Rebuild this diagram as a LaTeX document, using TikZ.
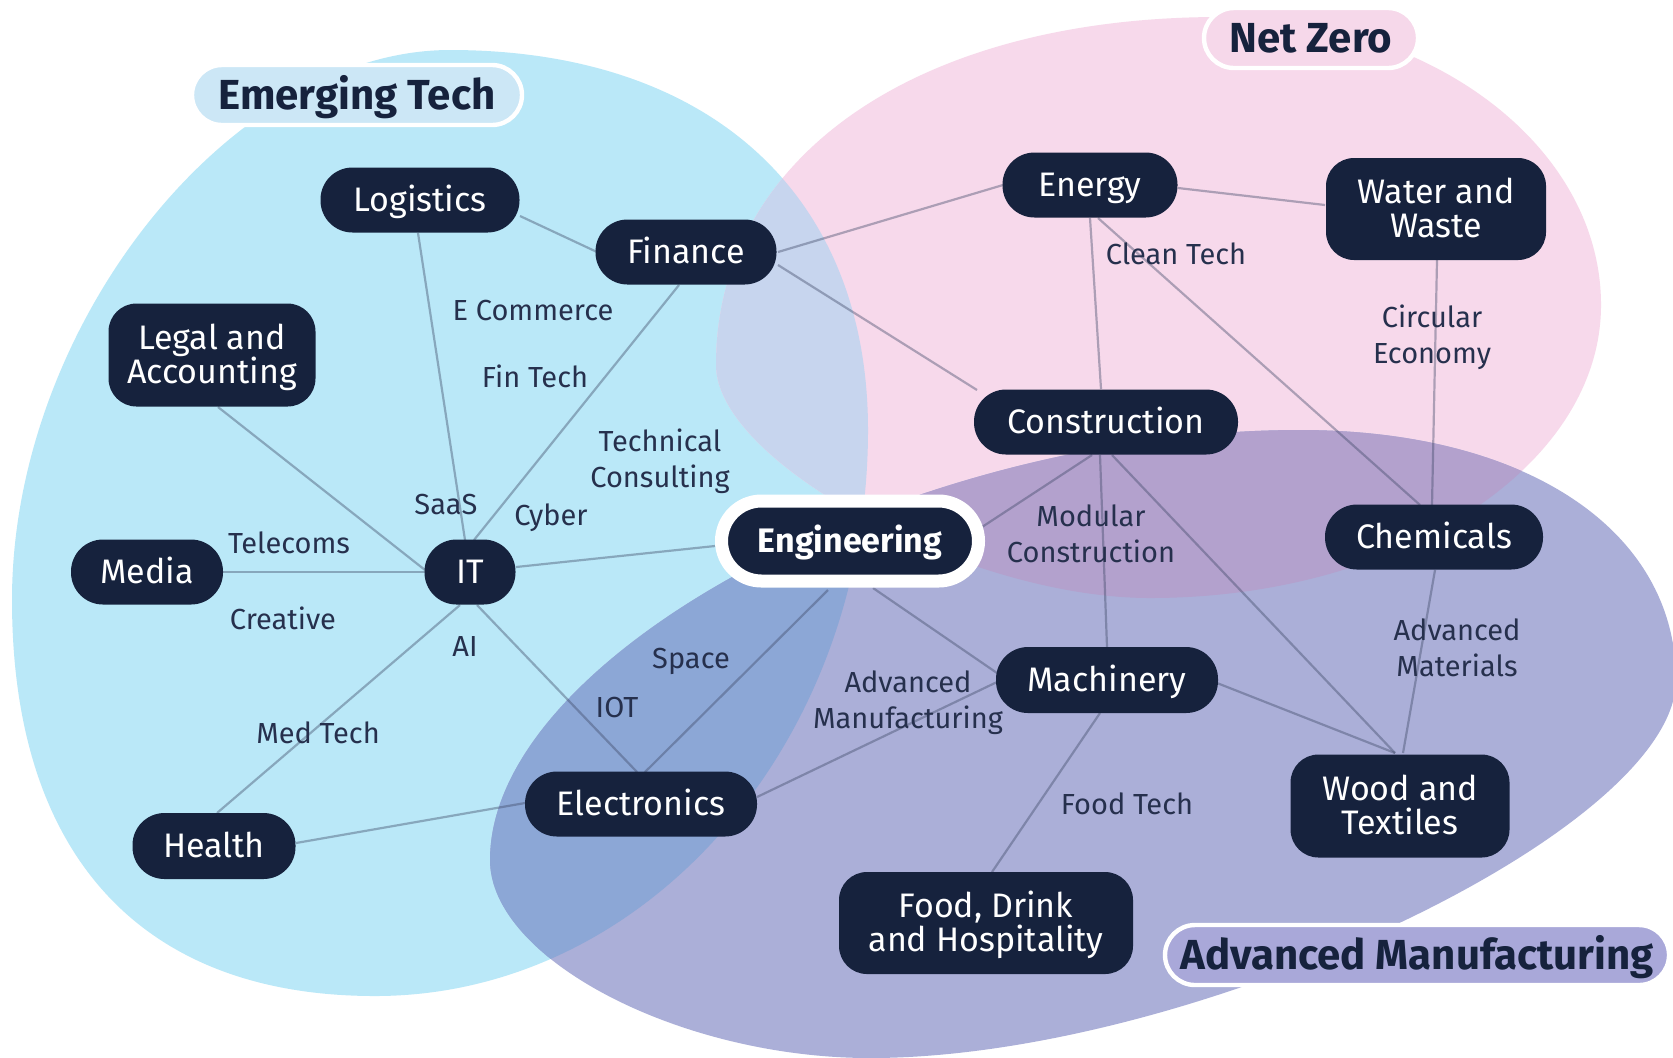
\documentclass[tikz,border=0pt]{standalone}
\usepackage{fontspec}
\setmainfont{Fira Sans}
\usetikzlibrary{calc}
\definecolor{bluec}{HTML}{BAE8F8}
\definecolor{pinkc}{HTML}{F7D9EB}
\definecolor{purpc}{HTML}{ABAFD8}
\definecolor{bpc}{HTML}{C7D5EE}
\definecolor{bqc}{HTML}{8CA7D6}
\definecolor{pqc}{HTML}{B3A1CD}
\definecolor{nodec}{HTML}{16223D}
\definecolor{labc}{HTML}{26304D}
\definecolor{edgec}{HTML}{3C4664}
\definecolor{ethead}{HTML}{CCE7F6}
\definecolor{nzhead}{HTML}{F6D8EA}
\definecolor{amhead}{HTML}{A9A8D9}
\newcommand\nodefont{\fontsize{17}{17}\selectfont}
\newcommand\labfont{\fontsize{14.5}{18}\selectfont}
\newcommand\headfont{\fontsize{21}{21}\selectfont\bfseries}
\newcommand\twol[2]{\smash{#1}\rule{0pt}{11.7pt}\\\smash{#2}}
\newcommand\twolb[2]{\smash{#1}\rule{0pt}{10pt}\\\smash{#2}}
\pgfdeclarelayer{bg}\pgfdeclarelayer{edges}\pgfsetlayers{bg,edges,main}
\tikzset{
  pill/.style={fill=nodec, text=white, rounded corners=16pt, inner sep=0pt,
    font=\nodefont, text height=11.7pt, text depth=0pt, minimum height=32.5pt},
  pilltwo/.style={fill=nodec, text=white, rounded corners=14pt, inner sep=0pt,
    font=\nodefont, align=center},
  engst/.style={fill=nodec, text=white, draw=white, line width=6.5pt, rounded corners=20pt,
    inner sep=0pt, font=\nodefont\bfseries, text height=11.7pt, text depth=0pt,
    minimum width=128.5pt, minimum height=40pt},
  elab/.style={text=labc, font=\labfont, inner sep=0pt, text height=10pt, text depth=0pt},
  elabtwo/.style={text=labc, font=\labfont, inner sep=0pt, align=center},
  head/.style={draw=white, line width=2.2pt, rounded corners=15pt, inner sep=0pt,
    font=\headfont, text=nodec, text height=14.5pt, text depth=0pt, minimum height=30pt},
  edge/.style={draw=edgec, draw opacity=0.4, line width=1.1pt}
}
\begin{document}
\begin{tikzpicture}[x=0.5pt,y=-0.5pt]
\useasboundingbox (0,0) rectangle (1673,1057);
% nodes
\node[pill, minimum width=99.5pt] (log) at (420,200) {Logistics};
\node[pill, minimum width=90.5pt] (fin) at (686,252) {Finance};
\node[pilltwo, minimum width=103.5pt, minimum height=51.5pt] (leg) at (212,355) {\twol{Legal and}{Accounting}};
\node[pill, minimum width=76pt] (med) at (147,572) {Media};
\node[pill, minimum width=45.5pt] (it) at (470,572) {IT};
\node[pill, minimum width=81.5pt, minimum height=33pt] (hea) at (214,846) {Health};
\node[pill, minimum width=116pt] (ele) at (641,804) {Electronics};
\node[engst] (eng) at (850,541) {Engineering};
\node[pill, minimum width=132pt] (con) at (1106,422) {Construction};
\node[pill, minimum width=111pt, minimum height=33pt] (mac) at (1107,680) {Machinery};
\node[pill, minimum width=87.5pt] (ene) at (1090,185) {Energy};
\node[pilltwo, minimum width=110pt, minimum height=51pt] (wat) at (1436,209) {\twol{Water and}{Waste}};
\node[pill, minimum width=109pt] (che) at (1434,537) {Chemicals};
\node[pilltwo, minimum width=109.5pt, minimum height=51.5pt] (woo) at (1400,806) {\twol{Wood and}{Textiles}};
\node[pilltwo, minimum width=147pt, minimum height=51pt] (foo) at (986,923) {\twol{Food, Drink}{and Hospitality}};
% edge labels
\node[elab] (lEC) at (533,310) {E Commerce};
\node[elab] (lFT) at (535,377) {Fin Tech};
\node[elabtwo] (lTC) at (660,459) {\twolb{Technical}{Consulting}};
\node[elab] (lSA) at (446,504) {SaaS};
\node[elab] (lCY) at (551,515) {Cyber};
\node[elab] (lTE) at (289,543) {Telecoms};
\node[elab] (lCR) at (283,619) {Creative};
\node[elab] (lAI) at (465,646) {AI};
\node[elab] (lMT) at (318,733) {Med Tech};
\node[elab] (lSP) at (691,658) {Space};
\node[elab] (lIO) at (617,707) {IOT};
\node[elabtwo] (lAM) at (908,700) {\twolb{Advanced}{Manufacturing}};
\node[elabtwo] (lMC) at (1091,534) {\twolb{Modular}{Construction}};
\node[elab] (lFO) at (1127,804) {Food Tech};
\node[elab] (lCT) at (1176,254) {Clean Tech};
\node[elabtwo] (lCE) at (1432,335) {\twolb{Circular}{Economy}};
\node[elabtwo] (lAMa) at (1457,648) {\twolb{Advanced}{Materials}};
% headings
\node[head, fill=ethead, minimum width=165pt] (hET) at (357,95) {Emerging Tech};
\node[head, fill=nzhead, minimum width=107pt] (hNZ) at (1311,38) {Net Zero};
\node[head, fill=amhead, minimum width=252pt] (hAM) at (1417,955) {Advanced Manufacturing};
% edges
\begin{pgfonlayer}{edges}
\draw[edge] ($(log.center)+(100,16)$) -- ($(fin.center)+(-89,0)$);
\draw[edge] ($(log.center)+(-2,33)$) -- ($(it.center)+(-5,-32)$);
\draw[edge] ($(fin.center)+(-7,33)$) -- ($(it.center)+(4,-32)$);
\draw[edge] ($(fin.center)+(92,0)$) -- ($(ene.center)+(-87,0)$);
\draw[edge] ($(fin.center)+(92,13)$) -- ($(con.center)+(-129,-32)$);
\draw[edge] ($(leg.center)+(6,52)$) -- ($(it.center)+(-45,-2)$);
\draw[edge] ($(med.center)+(76,0)$) -- ($(it.center)+(-45,0)$);
\draw[edge] ($(it.center)+(-10,33)$) -- ($(hea.center)+(3,-33)$);
\draw[edge] ($(it.center)+(7,33)$) -- ($(ele.center)+(-4,-32)$);
\draw[edge] ($(it.center)+(46,-5)$) -- ($(eng.center)+(-135,5)$);
\draw[edge] ($(ele.center)+(4,-32)$) -- ($(eng.center)+(-22,49)$);
\draw[edge] ($(eng.center)+(132,-14)$) -- ($(con.center)+(-14,33)$);
\draw[edge] ($(eng.center)+(23,47)$) -- ($(mac.center)+(-110,-7)$);
\draw[edge] ($(ele.center)+(116,-7)$) -- ($(mac.center)+(-110,2)$);
\draw[edge] ($(hea.center)+(82,-3)$) -- ($(ele.center)+(-116,-1)$);
\draw[edge] ($(ene.center)+(88,3)$) -- ($(wat.center)+(-111,-4)$);
\draw[edge] ($(ene.center)+(0,33)$) -- ($(con.center)+(-5,-33)$);
\draw[edge] ($(ene.center)+(8,33)$) -- ($(che.center)+(-14,-32)$);
\draw[edge] ($(wat.center)+(1,51)$) -- ($(che.center)+(-2,-32)$);
\draw[edge] ($(con.center)+(-6,33)$) -- ($(mac.center)+(0,-33)$);
\draw[edge] ($(con.center)+(6,33)$) -- ($(woo.center)+(-5,-53)$);
\draw[edge] ($(che.center)+(1,33)$) -- ($(woo.center)+(3,-53)$);
\draw[edge] ($(mac.center)+(110,3)$) -- ($(woo.center)+(-5,-53)$);
\draw[edge] ($(mac.center)+(-7,33)$) -- ($(foo.center)+(6,-51)$);
\end{pgfonlayer}
% blobs
\begin{pgfonlayer}{bg}
\fill[white] (0,0) rectangle (1673,1057);
\begin{scope}
\clip (0,0) rectangle (1673,1057);
% blue
\fill[bluec] (450,50) .. controls (709,50) and (868,194) .. (868,430) .. controls (868,742) and (647,996) .. (375,996) .. controls (143,996) and (12,857) .. (12,600) .. controls (12,325) and (231,50) .. (450,50) -- cycle;
% pink
\fill[pinkc] (1220,17) .. controls (1430,17) and (1601,146) .. (1601,305) .. controls (1601,467) and (1399,598) .. (1150,598) .. controls (968,598) and (716,463) .. (716,365) .. controls (716,156) and (918,17) .. (1220,17) -- cycle;
% purple
\fill[purpc] (1300,430) .. controls (1526,430) and (1676,530) .. (1676,680) .. controls (1676,831) and (1192,1058) .. (870,1058) .. controls (680,1058) and (490,959) .. (490,860) .. controls (490,654) and (911,430) .. (1300,430) -- cycle;
\begin{scope}
\clip (450,50) .. controls (709,50) and (868,194) .. (868,430) .. controls (868,742) and (647,996) .. (375,996) .. controls (143,996) and (12,857) .. (12,600) .. controls (12,325) and (231,50) .. (450,50) -- cycle;
\fill[bpc] (1220,17) .. controls (1430,17) and (1601,146) .. (1601,305) .. controls (1601,467) and (1399,598) .. (1150,598) .. controls (968,598) and (716,463) .. (716,365) .. controls (716,156) and (918,17) .. (1220,17) -- cycle;
\fill[bqc] (1300,430) .. controls (1526,430) and (1676,530) .. (1676,680) .. controls (1676,831) and (1192,1058) .. (870,1058) .. controls (680,1058) and (490,959) .. (490,860) .. controls (490,654) and (911,430) .. (1300,430) -- cycle;
\end{scope}
\begin{scope}
\clip (1220,17) .. controls (1430,17) and (1601,146) .. (1601,305) .. controls (1601,467) and (1399,598) .. (1150,598) .. controls (968,598) and (716,463) .. (716,365) .. controls (716,156) and (918,17) .. (1220,17) -- cycle;
\fill[pqc] (1300,430) .. controls (1526,430) and (1676,530) .. (1676,680) .. controls (1676,831) and (1192,1058) .. (870,1058) .. controls (680,1058) and (490,959) .. (490,860) .. controls (490,654) and (911,430) .. (1300,430) -- cycle;
\end{scope}
\end{scope}
\end{pgfonlayer}
\end{tikzpicture}
\end{document}
